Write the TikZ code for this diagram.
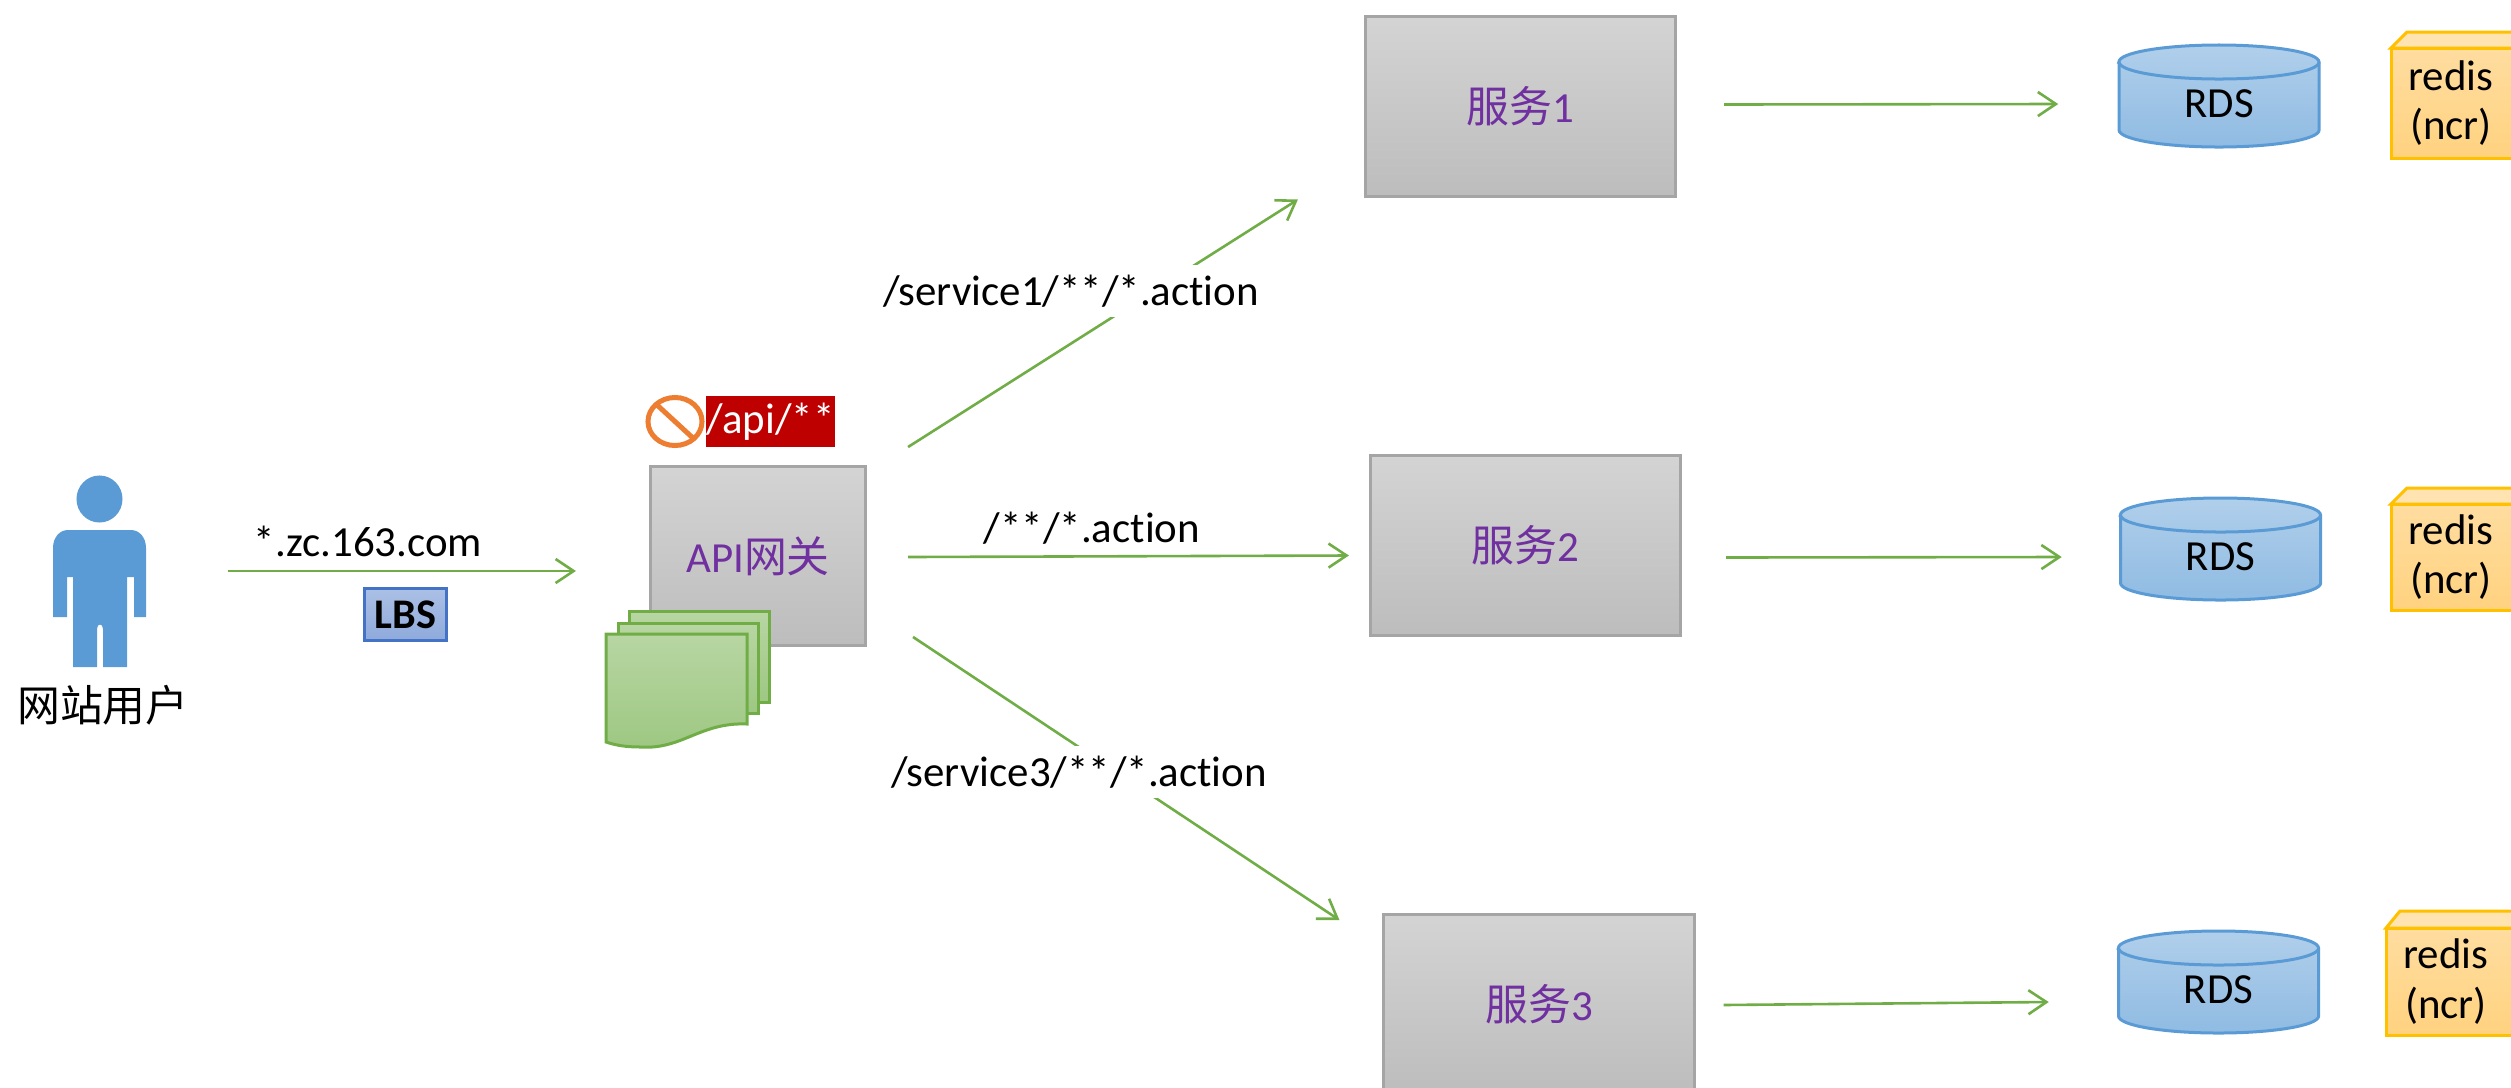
\documentclass[tikz,border=0pt]{standalone}
\usepackage{tikz}
\usepackage{xcolor}
\usepackage{fontspec}
\setmainfont{Carlito}[Ligatures=NoCommon]
\newfontfamily\cjk{Noto Sans CJK SC}
\usetikzlibrary{arrows.meta,calc}
\definecolor{svcpurple}{HTML}{7030A0}
\definecolor{flowgreen}{HTML}{70AD47}
\definecolor{dbblue}{HTML}{5B9BD5}
\definecolor{cacheamber}{HTML}{FFC000}
\definecolor{cachelight}{HTML}{FFDDA0}
\definecolor{cachedeep}{HTML}{FFD27F}
\definecolor{cachepale}{HTML}{FFE3B0}
\definecolor{bargray}{HTML}{A5A5A5}
\definecolor{denyorange}{HTML}{ED7D31}
\definecolor{lbsblue}{HTML}{4472C4}
\tikzset{
    svcbox/.style={draw=bargray, line width=.03cm, top color=black!17, bottom color=black!26,
        minimum width=3.1cm, minimum height=1.79cm, text=svcpurple, font=\fontsize{12.2}{14}\selectfont},
    flowline/.style={draw=flowgreen, line width=.026cm, -{Straight Barb[length=.18cm,width=.24cm]}},
    pathtext/.style={fill=white, inner sep=.02cm, minimum height=.51cm, font=\fontsize{12.2}{14}\selectfont},
    boxtext/.style={inner sep=0pt, align=center, font=\fontsize{12.2}{14}\selectfont},
    dbshape/.style={draw=dbblue, line width=.03cm, top color=dbblue!48, bottom color=dbblue!68},
    cachefront/.style={draw=cacheamber, line width=.03cm, top color=cachelight, bottom color=cachedeep},
    cachetop/.style={draw=cacheamber, line width=.03cm, fill=cachepale},
    docsheet/.style={draw=flowgreen, line width=.03cm, top color=flowgreen!50, bottom color=flowgreen!68}
}

\begin{document}
\begin{tikzpicture}[x=0.01cm,y=-0.01cm]
            \useasboundingbox (0,0) rectangle (2511,1087);
            \clip (0,0) rectangle (2511,1087);
            % user
            \fill[color=dbblue] (99.5,499) ellipse [x radius=.23cm, y radius=.235cm];
            \fill[color=dbblue] (53,548) .. controls (53,537) and (60,530) .. (68,530) -- (131,530)
                .. controls (139,530) and (146,537) .. (146,548) -- (146,617) -- (134,617) -- (134,577)
                -- (127,577) -- (127,667) -- (103,667) -- (103,629) .. controls (103,623) and (97,623) .. (97,629)
                -- (97,667) -- (73,667) -- (73,577) -- (67,577) -- (67,617) -- (53,617) -- cycle;
            \node[boxtext] (user) at (103,705) {\cjk 网站用户};
            \coordinate (userout) at (228,571);
            \node[boxtext] (domain) at (368,541) {*.zc.163.com};
            \node[draw=lbsblue, line width=.03cm, top color=lbsblue!45, bottom color=lbsblue!60,
                minimum width=.82cm, minimum height=.51cm, inner sep=0pt, font=\fontsize{12}{14}\selectfont\bfseries] (lbs) at (405.5,614.5) {LBS};

            % gateway and its filters
            \node[svcbox, minimum width=2.15cm, minimum height=1.78cm] (api) at (758,556) {API{\cjk 网关}};
            \draw[docsheet] (629,611) rectangle (769,702);
            \draw[docsheet] (618,623) rectangle (758,713);
            \draw[docsheet] (606,634) -- (747,634) -- (747,724) .. controls (700,722) and (682,750) .. (640,747)
                .. controls (625,747) and (615,745) .. (606,742) -- cycle;
            \draw[color=denyorange, line width=.05cm] (675,421.5) ellipse [x radius=.27cm, y radius=.24cm];
            \draw[color=denyorange, line width=.05cm] (656,404) -- (694,439);
            \node[fill=red!75!black, text=white, minimum width=1.29cm, minimum height=.51cm, inner sep=0pt,
                font=\fontsize{12.2}{14}\selectfont] (deny) at (770.5,421.5) {/api/**};

            % services
            \node[svcbox] (svc1) at (1520.5,106.5) {{\cjk 服务}1};
            \node[svcbox] (svc2) at (1525.5,545.5) {{\cjk 服务}2};
            \node[svcbox] (svc3) at (1539,1004) {{\cjk 服务}3};

            % databases
            \foreach \Name/\X/\Y in {rds1/2219/62, rds2/2220.5/515, rds3/2218.5/948}{
                    \draw[dbshape] ({\X-100},\Y) -- ({\X-100},{\Y+68}) arc (180:360:1cm and .17cm)
                        -- ({\X+100},\Y) arc (0:180:1cm and .17cm) -- cycle;
                    \draw[draw=dbblue, line width=.03cm] ({\X-100},\Y) arc (180:360:1cm and .17cm);
                    \node[boxtext, minimum width=2cm] (\Name) at (\X,{\Y+42}) {RDS};
                }

            % redis boxes
            \foreach \Name/\L/\T/\B/\Dx/\Dy in {redis1/2391/48/158/16/16, redis2/2391/504/610/16/16, redis3/2386/928/1035/14/17}{
                    \draw[cachetop] (\L,\T) -- ({\L+\Dx},{\T-\Dy}) -- (2540,{\T-\Dy}) -- (2540,\T) -- cycle;
                    \draw[cachefront] (\L,\T) rectangle (2540,\B);
                    \node[boxtext] (\Name) at ({\L+60},{(\T+\B)/2}) {redis\\(ncr)};
                }

            % flows
            \draw[flowline] (userout) -- ($(api.west)+(-73,15)$);
            \draw[flowline] ($(api.east)+(41,-109)$) -- ($(svc1.west)+(-66,93)$);
            \draw[flowline] ($(api.east)+(41,1)$) -- ($(svc2.west)+(-20,10)$);
            \draw[flowline] ($(api.east)+(46,81)$) -- ($(svc3.west)+(-43,-84)$);
            \draw[flowline] ($(svc1.east)+(47,-2)$) -- ($(rds1.west)+(-60,0)$);
            \draw[flowline] ($(svc2.east)+(44,12)$) -- ($(rds2.west)+(-58,0)$);
            \draw[flowline] ($(svc3.east)+(28,1)$) -- ($(rds3.west)+(-69,12)$);
            \node[pathtext] (route1) at (1071,291) {/service1/**/*.action};
            \node[boxtext] (route2) at (1092,528) {/**/*.action};
            \node[pathtext] (route3) at (1079,772) {/service3/**/*.action};

        \end{tikzpicture}
\end{document}
